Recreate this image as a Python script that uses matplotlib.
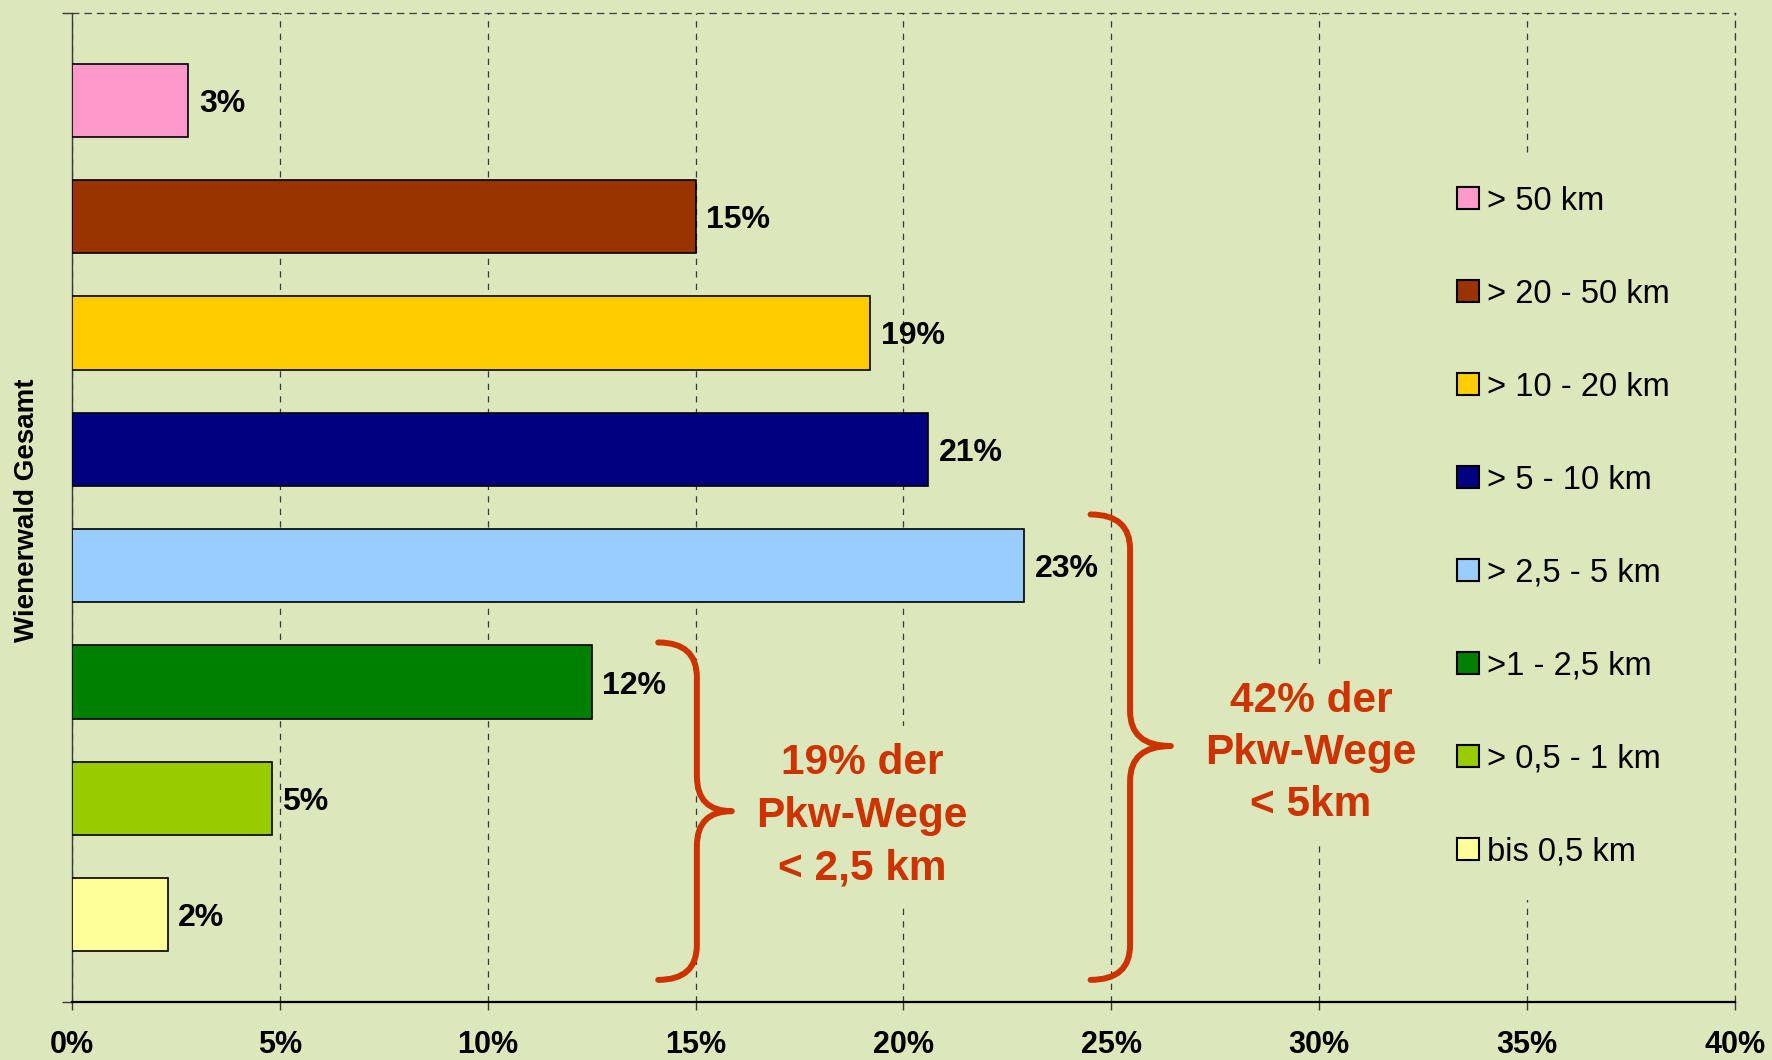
import matplotlib
matplotlib.use("Agg")
import matplotlib.pyplot as plt
import matplotlib.patches as mpatches
from matplotlib.path import Path
from matplotlib.font_manager import FontProperties

BG = '#DCE7BC'
RED = '#CC3300'
GRID = '#3a3a3a'

categories = ['> 50 km', '> 20 - 50 km', '> 10 - 20 km', '> 5 - 10 km',
              '> 2,5 - 5 km', '>1 - 2,5 km', '> 0,5 - 1 km', 'bis 0,5 km']
values = [2.8, 15.0, 19.2, 20.6, 22.9, 12.5, 4.8, 2.3]
value_labels = ['3%', '15%', '19%', '21%', '23%', '12%', '5%', '2%']
colors = ['#FF99CC', '#993300', '#FFCC00', '#000080',
          '#99CCFF', '#008000', '#99CC00', '#FFFF99']
xticks = [0, 5, 10, 15, 20, 25, 30, 35, 40]
ylabel = 'Wienerwald Gesamt'
note_short = '19% der\nPkw-Wege\n< 2,5 km'
note_long = '42% der\nPkw-Wege\n< 5km'

plt.rcParams['font.family'] = ['Liberation Sans', 'DejaVu Sans']

# narrow font for tick labels if present
narrow = FontProperties(family=['Liberation Sans Narrow', 'Liberation Sans'], weight='bold', size=22)


def draw_brace(ax, x0, x1, x2, ytop, ybot, ymid, r):
    verts = [(x0, ytop), (x1, ytop), (x1, ytop + r),
             (x1, ymid - r), (x1, ymid), (x2, ymid),
             (x1, ymid), (x1, ymid + r),
             (x1, ybot - r), (x1, ybot), (x0, ybot)]
    codes = [Path.MOVETO, Path.CURVE3, Path.CURVE3,
             Path.LINETO, Path.CURVE3, Path.CURVE3,
             Path.CURVE3, Path.CURVE3,
             Path.LINETO, Path.CURVE3, Path.CURVE3]
    patch = mpatches.PathPatch(Path(verts, codes), facecolor='none',
                               edgecolor=RED, linewidth=4.3,
                               capstyle='round', joinstyle='round', zorder=4)
    ax.add_patch(patch)


fig = plt.figure(figsize=(17.72, 10.60), dpi=100, facecolor=BG)
ax = fig.add_axes([72 / 1772, 1 - 1002 / 1060, (1735 - 72) / 1772, (1002 - 13) / 1060])
ax.set_facecolor(BG)

pos = list(range(len(values)))
ax.barh(pos, values, height=0.63, color=colors, edgecolor='black',
        linewidth=1.2, zorder=3)
for y, v, lab in zip(pos, values, value_labels):
    ax.text(v + 0.25, y, lab, ha='left', va='center_baseline', fontsize=23,
            fontweight='bold', color='black', zorder=5)

ax.set_xlim(0, 40)
ax.set_ylim(7.75, -0.75)
ax.set_xticks(xticks)
ax.set_xticklabels([f'{t}%' for t in xticks], fontproperties=narrow)
ax.set_yticks([-0.75, 7.75])
ax.set_yticklabels(['', ''])
ax.tick_params(axis='x', direction='out', length=6, width=1, color=GRID, pad=14)
ax.tick_params(axis='y', direction='out', length=7, width=1, color=GRID)

ax.set_axisbelow(True)
ax.grid(axis='x', color=GRID, linestyle=(0, (5, 5)), linewidth=0.9)

for side in ['top', 'right']:
    ax.spines[side].set_linestyle((0, (5, 5)))
    ax.spines[side].set_color(GRID)
    ax.spines[side].set_linewidth(0.9)
ax.spines['left'].set_color(GRID)
ax.spines['left'].set_linewidth(1.0)
ax.spines['bottom'].set_color('black')
ax.spines['bottom'].set_linewidth(1.6)

fig.text(27 / 1772, 1 - 510 / 1060, ylabel, rotation=90, ha='center', va='center',
         fontsize=20, fontweight='bold')

# braces and notes
draw_brace(ax, 14.1, 15.03, 15.87, 4.66, 7.56, 6.11, 0.3)
draw_brace(ax, 24.5, 25.45, 26.43, 3.56, 7.56, 5.55, 0.3)

box = dict(boxstyle='square,pad=0.4', facecolor=BG, edgecolor='none')
ax.text(19.0, 6.15, note_short, ha='center', va='center', fontsize=30.5,
        fontweight='bold', color=RED, linespacing=1.4, bbox=box, zorder=4)
ax.text(29.8, 5.61, note_long, ha='center', va='center', fontsize=30.5,
        fontweight='bold', color=RED, linespacing=1.4, bbox=box, zorder=4)

handles = [mpatches.Patch(facecolor=c, edgecolor='black', linewidth=1.5, label=l)
           for c, l in zip(colors, categories)]
leg = fig.legend(handles=handles, loc='upper left',
                 bbox_to_anchor=(1424 / 1772, 1 - 153 / 1060),
                 borderaxespad=0, fontsize=23.5, frameon=True, framealpha=1,
                 handlelength=0.67, handleheight=0.67, handletextpad=0.25,
                 labelspacing=1.9, borderpad=1.0, fancybox=False)
leg.get_frame().set_facecolor(BG)
leg.get_frame().set_edgecolor('none')

fig.savefig('out.png', dpi=100, facecolor=BG)
